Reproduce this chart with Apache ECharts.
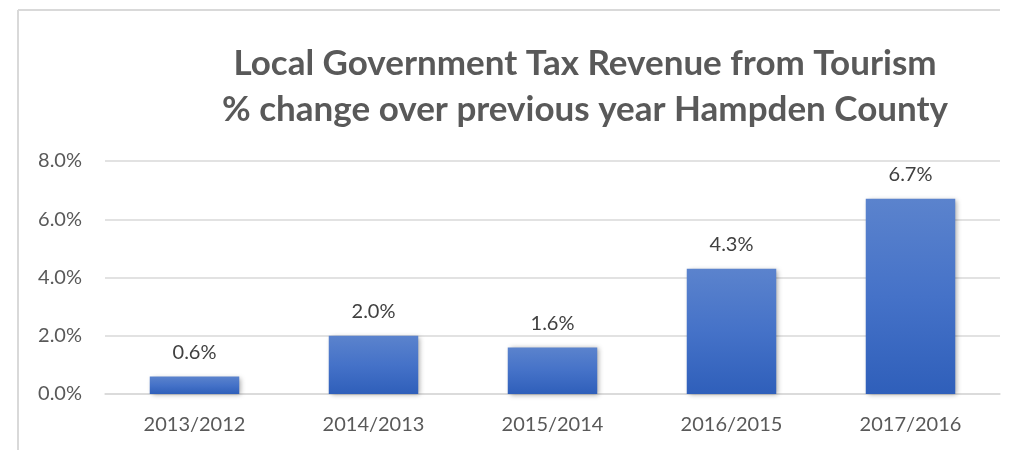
<!DOCTYPE html>
<html>
<head>
<meta charset="utf-8">
<script src="https://cdn.jsdelivr.net/npm/echarts@6/dist/echarts.min.js"></script>
<style>
  html, body { margin: 0; padding: 0; background: #fff; }
  #chart { width: 1023px; height: 450px; }
</style>
</head>
<body>
<div id="chart"></div>
<script>
// Year-over-year change in local tax revenue from tourism, Hampden County
const categories = ['2013/2012', '2014/2013', '2015/2014', '2016/2015', '2017/2016'];
const changePct = [0.6, 2.0, 1.6, 4.3, 6.7];
const yTicks = [0, 2, 4, 6, 8];
const titleLines = [
  'Local Government Tax Revenue from Tourism',
  '% change over previous year Hampden County'
];

const textColor = '#595959';
const lineColor = '#D9D9D9';
const font = 'Lato, "Open Sans", sans-serif';

const chart = echarts.init(document.getElementById('chart'), null, { renderer: 'canvas' });

chart.setOption({
  backgroundColor: '#ffffff',
  animation: false,
  title: {
    text: titleLines.join('\n'),
    left: 580,
    top: 36,
    textAlign: 'center',
    textStyle: {
      fontFamily: font,
      fontWeight: 'bold',
      fontSize: 35,
      lineHeight: 46,
      color: textColor
    }
  },
  graphic: [
    { type: 'line', shape: { x1: 18, y1: 10, x2: 18, y2: 450 }, style: { stroke: lineColor, lineWidth: 2 } },
    { type: 'line', shape: { x1: 18, y1: 10, x2: 1000, y2: 10 }, style: { stroke: lineColor, lineWidth: 2 } }
  ],
  grid: { left: 105, right: 23, top: 161, bottom: 56, containLabel: false },
  xAxis: {
    type: 'category',
    data: categories,
    axisLine: { show: true, lineStyle: { color: lineColor, width: 1.5 } },
    axisTick: { show: false },
    axisLabel: { color: textColor, fontFamily: font, fontSize: 20, margin: 21 }
  },
  yAxis: {
    type: 'value',
    min: yTicks[0],
    max: yTicks[yTicks.length - 1],
    interval: yTicks[1] - yTicks[0],
    axisLine: { show: false },
    axisTick: { show: false },
    splitLine: { lineStyle: { color: lineColor, width: 1.5 } },
    axisLabel: {
      color: textColor, fontFamily: font, fontSize: 20, margin: 23,
      formatter: v => v.toFixed(1) + '%'
    }
  },
  series: [{
    type: 'bar',
    data: changePct,
    barWidth: '50%',
    itemStyle: {
      color: new echarts.graphic.LinearGradient(0, 0, 0, 1, [
        { offset: 0, color: '#5B83CD' },
        { offset: 0.5, color: '#4572C8' },
        { offset: 1, color: '#2F5FBA' }
      ]),
      shadowColor: 'rgba(0,0,0,0.35)',
      shadowBlur: 5,
      shadowOffsetX: 2,
      shadowOffsetY: 1
    },
    label: {
      show: true,
      position: 'top',
      distance: 14,
      color: '#404040',
      fontFamily: font,
      fontSize: 20,
      formatter: p => p.value.toFixed(1) + '%'
    }
  }]
});
</script>
</body>
</html>
